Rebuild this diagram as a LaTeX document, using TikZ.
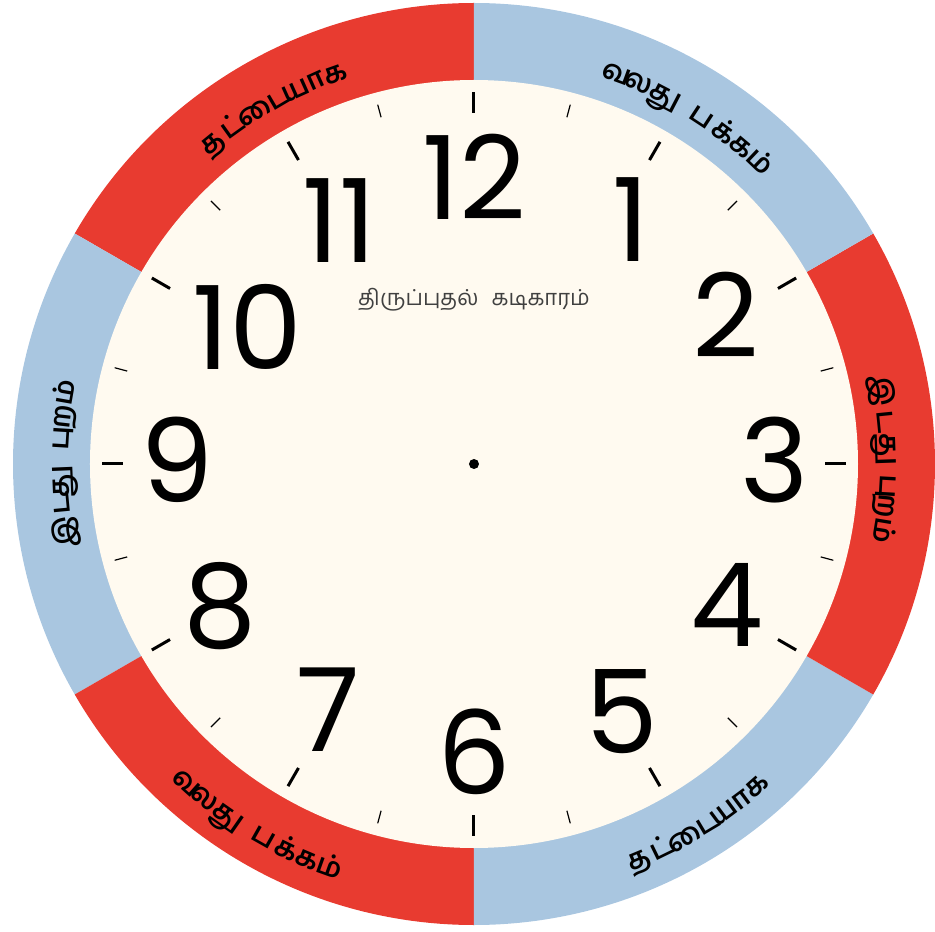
\documentclass[tikz,border=0pt]{standalone}
\usepackage{fontspec}
\usepackage{xcolor}
\newfontfamily\numfont{Poppins}
\newfontfamily\tamfont[Script=Tamil]{Hind Madurai}
\definecolor{ringred}{RGB}{232,59,48}
\definecolor{ringblue}{RGB}{169,198,224}
\definecolor{face}{RGB}{255,250,240}

\begin{document}
\begin{tikzpicture}[x=1pt,y=1pt,
  num/.style={font=\numfont\fontsize{116}{116}\selectfont,inner sep=0pt},
  ringtxt/.style={font=\tamfont\bfseries\fontsize{28}{28}\selectfont,inner sep=0pt,anchor=base},
  hourtick/.style={line width=3pt},
  halftick/.style={line width=1.2pt}]
  \useasboundingbox (-474,-468) rectangle (461,464);
  % coloured ring and face
  \foreach \a/\c in {90/ringred,150/ringblue,210/ringred,270/ringblue,330/ringred,30/ringblue}
    \fill[\c] (0,0) -- (\a:461) arc[start angle=\a,delta angle=60,radius=461] -- cycle;
  \fill[face] (0,0) circle (384);
  % words round the ring, one cluster at a time
  \foreach \a/\c [count=\i] in {129.2/த,125.6/ட்,120.5/டை,114.3/யா,109.5/க}
    \node[ringtxt,rotate=\a-90] (tl\i) at (\a:406) {\c};
  \foreach \a/\c [count=\i] in {69.9/வ,66.7/ல,62.5/து,56.7/ப,53/க்,49.9/க,46.5/ம்}
    \node[ringtxt,rotate=\a-90] (tr\i) at (\a:407) {\c};
  \foreach \a/\c [count=\i] in {189.5/இ,185.4/ட,182.4/து,176.5/பு,173.5/ற,170.1/ம்}
    \node[ringtxt,rotate=\a-90] (lt\i) at (\a:406) {\c};
  \foreach \a/\c [count=\i] in {10.2/இ,5.8/ட,2/து,-3.2/பு,-5.8/ற,-9.3/ம்}
    \node[ringtxt,rotate=\a-90] (rt\i) at (\a:406) {\c};
  \foreach \a/\c [count=\i] in {228/வ,231.1/ல,235.1/து,240.6/ப,244.1/க்,247.1/க,250.3/ம்}
    \node[ringtxt,rotate=\a+90] (bl\i) at (\a:437) {\c};
  \foreach \a/\c [count=\i] in {292.6/த,296/ட்,300.8/டை,306.7/யா,311.3/க}
    \node[ringtxt,rotate=\a+90] (br\i) at (\a:437) {\c};
  % ticks
  \foreach \a in {0,30,...,330} \draw[hourtick] (\a:351) -- (\a:372);
  \foreach \a in {15,45,...,345} \draw[halftick] (\a:359) -- (\a:372);
  % hour numbers
  \foreach \h/\x/\y in {12/0/287,1/157/244,2/252/149,3/301/4,4/253/-141,5/148/-248,
                        6/0/-288,7/-146/-246,8/-254/-142,9/-297/4,10/-227/137,11/-134/243}
    \node[num] (h\h) at (\x,\y) {\h};
  \node[font=\tamfont\fontsize{22}{22}\selectfont,text=black!75] (title) at (0,164)
    {திருப்புதல்\hspace{0.6em}கடிகாரம்};
  \fill (0,0) circle (5);
\end{tikzpicture}
\end{document}
